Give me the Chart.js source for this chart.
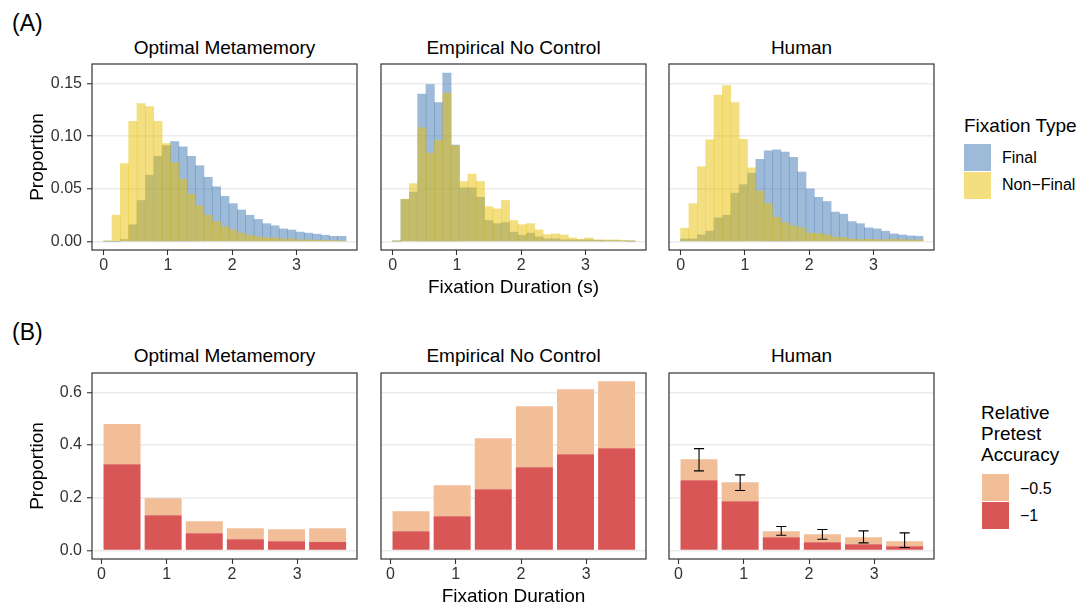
<!DOCTYPE html>
<html>
<head>
<meta charset="utf-8">
<script src="https://cdn.jsdelivr.net/npm/chart.js@4.4.1/dist/chart.umd.min.js"></script>
<style>
  html, body { margin: 0; padding: 0; background: #fff; }
  body { width: 1082px; height: 607px; position: relative; overflow: hidden;
         font-family: "Liberation Sans", Arial, Helvetica, sans-serif; color: #000; }
  .t { position: absolute; white-space: nowrap; line-height: 1; }
  canvas { position: absolute; }
  .sw { position: absolute; }
</style>
</head>
<body>
<script>
// ---------- axis ticks ----------
const xTickVals = [0, 1, 2, 3];
const xTickLabels = ['0', '1', '2', '3'];
const histYTickVals = [0, 0.05, 0.10, 0.15];
const histYTickLabels = ['0.00', '0.05', '0.10', '0.15'];
const barYTickVals = [0, 0.2, 0.4, 0.6];
const barYTickLabels = ['0.0', '0.2', '0.4', '0.6'];

const panelTitles = ['Optimal Metamemory', 'Empirical No Control', 'Human'];

// ---------- (A) fixation duration histograms ----------
const histBinCenters = [0.065, 0.195, 0.325, 0.455, 0.585, 0.715, 0.845, 0.975, 1.105, 1.235,
  1.365, 1.495, 1.625, 1.755, 1.885, 2.015, 2.145, 2.275, 2.405, 2.535,
  2.665, 2.795, 2.925, 3.055, 3.185, 3.315, 3.445, 3.575, 3.705];

const optimalFinal = [0, 0, 0.002, 0.016, 0.039, 0.063, 0.081, 0.091, 0.095, 0.090,
  0.081, 0.072, 0.061, 0.052, 0.043, 0.036, 0.030, 0.025, 0.021, 0.017,
  0.015, 0.012, 0.011, 0.009, 0.008, 0.007, 0.006, 0.005, 0.005];
const optimalNonFinal = [0.001, 0.025, 0.074, 0.114, 0.131, 0.128, 0.114, 0.093, 0.075, 0.059,
  0.045, 0.034, 0.025, 0.019, 0.014, 0.011, 0.008, 0.006, 0.0044, 0.0035,
  0.0035, 0.0025, 0.0025, 0.0016, 0.0016, 0.0013, 0.0013, 0.001, 0.0006];

const empiricalFinal = [0.0003, 0.040, 0.047, 0.140, 0.149, 0.132, 0.160, 0.0915, 0.051, 0.051,
  0.042, 0.020, 0.017, 0.018, 0.009, 0.006, 0.008, 0.0044, 0.0025, 0.0025,
  0.0016, 0.0016, 0.0016, 0.0016, 0.0013, 0.001, 0.001, 0.0006, 0.0003];
const empiricalNonFinal = [0.0003, 0.0402, 0.055, 0.108, 0.084, 0.096, 0.141, 0.091, 0.057, 0.064,
  0.057, 0.033, 0.031, 0.039, 0.020, 0.016, 0.017, 0.011, 0.0066, 0.0073,
  0.0063, 0.0035, 0.0022, 0.0035, 0.0016, 0.0016, 0.0016, 0.0013, 0.0003];

const humanFinal = [0.0025, 0.0025, 0.0063, 0.010, 0.0225, 0.025, 0.046, 0.054, 0.065, 0.078,
  0.086, 0.087, 0.085, 0.080, 0.066, 0.050, 0.042, 0.038, 0.028, 0.026,
  0.019, 0.017, 0.013, 0.012, 0.0098, 0.0073, 0.0063, 0.0054, 0.0051];
const humanNonFinal = [0.0127, 0.036, 0.071, 0.0965, 0.139, 0.148, 0.132, 0.097, 0.070, 0.048,
  0.036, 0.023, 0.018, 0.015, 0.013, 0.008, 0.0076, 0.0063, 0.0044, 0.0038,
  0.0025, 0.0019, 0.0022, 0.0019, 0.0019, 0.0022, 0.0019, 0.0016, 0.0016];

// ---------- (B) proportion by relative pretest accuracy ----------
const durationBinCenters = [0.315, 0.945, 1.575, 2.205, 2.835, 3.465];

const optimalAccMinus1 = [0.327, 0.134, 0.066, 0.043, 0.035, 0.032];
const optimalAccMinusHalf = [0.153, 0.064, 0.045, 0.042, 0.046, 0.053];

const empiricalAccMinus1 = [0.073, 0.130, 0.232, 0.316, 0.365, 0.388];
const empiricalAccMinusHalf = [0.076, 0.118, 0.194, 0.231, 0.246, 0.254];

const humanAccMinus1 = [0.2665, 0.187, 0.0505, 0.0316, 0.024, 0.0164];
const humanAccMinusHalf = [0.0795, 0.072, 0.0228, 0.0303, 0.0265, 0.019];
const humanErrLow = [0.302, 0.2274, 0.058, 0.043, 0.029, 0.0114];
const humanErrHigh = [0.3865, 0.2867, 0.091, 0.0796, 0.0745, 0.067];

// ---------- styling ----------
const FONT = '"Liberation Sans", Arial, Helvetica, sans-serif';
const COL_FINAL = 'rgba(59,117,177,0.5)';
const COL_NONFINAL = 'rgba(233,191,1,0.5)';
const COL_HALF = 'rgb(241,190,152)';
const COL_ONE = 'rgb(216,87,86)';
const INK = '#333';

// frame drawn around every panel
const panelFrame = {
  id: 'panelFrame',
  afterDraw(chart) {
    const { ctx, chartArea: a } = chart;
    ctx.save();
    ctx.strokeStyle = INK;
    ctx.lineWidth = 1.2;
    ctx.strokeRect(a.left, a.top, a.right - a.left, a.bottom - a.top);
    ctx.restore();
  }
};

// vertical error bars with caps
const errorBars = {
  id: 'errorBars',
  afterDatasetsDraw(chart, args, opts) {
    if (!opts || !opts.low) return;
    const { ctx, scales: { x, y } } = chart;
    ctx.save();
    ctx.strokeStyle = '#000';
    ctx.lineWidth = 1.1;
    opts.centers.forEach((c, i) => {
      const px = x.getPixelForValue(c);
      const half = x.getPixelForValue(c + opts.capWidth / 2) - px;
      const lo = y.getPixelForValue(opts.low[i]);
      const hi = y.getPixelForValue(opts.high[i]);
      ctx.beginPath();
      ctx.moveTo(px, lo); ctx.lineTo(px, hi);
      ctx.moveTo(px - half, lo); ctx.lineTo(px + half, lo);
      ctx.moveTo(px - half, hi); ctx.lineTo(px + half, hi);
      ctx.stroke();
    });
    ctx.restore();
  }
};

const PAD = 4, Y_AXIS_W = 56, X_AXIS_H = 30;

function noOverflow(s) {
  s.paddingTop = 0; s.paddingBottom = 0; s.paddingLeft = 0; s.paddingRight = 0;
}

function makePanel(p) {
  const yW = p.showY ? Y_AXIS_W : 0;
  const w = PAD + yW + p.pw + PAD;
  const h = PAD + p.ph + X_AXIS_H;
  const canvas = document.createElement('canvas');
  canvas.width = w; canvas.height = h;
  canvas.style.width = w + 'px'; canvas.style.height = h + 'px';
  canvas.style.left = (p.px - PAD - yW) + 'px';
  canvas.style.top = (p.py - PAD) + 'px';
  document.body.appendChild(canvas);

  new Chart(canvas, {
    type: 'bar',
    data: { datasets: p.datasets },
    plugins: [panelFrame, errorBars],
    options: {
      responsive: false,
      animation: false,
      devicePixelRatio: 1,
      layout: { padding: { left: PAD, top: PAD, right: PAD, bottom: 0 } },
      plugins: {
        legend: { display: false },
        tooltip: { enabled: false },
        errorBars: p.errorBars || {}
      },
      scales: {
        x: {
          type: 'linear', min: p.xMin, max: p.xMax, offset: false, stacked: p.stacked,
          afterBuildTicks: s => { s.ticks = xTickVals.map(v => ({ value: v })); },
          afterFit: s => { s.height = X_AXIS_H; noOverflow(s); },
          grid: { offset: false, drawOnChartArea: false, drawTicks: true, tickLength: 5,
                  tickColor: INK, tickWidth: 1.1 },
          border: { display: false },
          ticks: { callback: (v, i) => xTickLabels[i], font: { family: FONT, size: 16 },
                   color: INK, padding: 1, maxRotation: 0, autoSkip: false }
        },
        y: {
          type: 'linear', min: p.yMin, max: p.yMax, stacked: p.stacked,
          afterBuildTicks: s => { s.ticks = p.yTicks.map(v => ({ value: v })); },
          afterFit: s => { s.width = yW; noOverflow(s); },
          grid: { color: '#ebebeb', lineWidth: 1.5, drawTicks: p.showY, tickLength: 5,
                  tickColor: INK, tickWidth: 1.1 },
          border: { display: false },
          ticks: { display: p.showY, callback: (v, i) => p.yLabels[i],
                   font: { family: FONT, size: 16 }, color: INK, padding: 5 }
        }
      }
    }
  });
}

function histDatasets(finalVals, nonFinalVals) {
  return [
    { label: 'Final', order: 2, data: histBinCenters.map((x, i) => ({ x, y: finalVals[i] })),
      backgroundColor: COL_FINAL, borderWidth: 0, grouped: false,
      barPercentage: 1, categoryPercentage: 1 },
    { label: 'Non-Final', order: 1, data: histBinCenters.map((x, i) => ({ x, y: nonFinalVals[i] })),
      backgroundColor: COL_NONFINAL, borderWidth: 0, grouped: false,
      barPercentage: 1, categoryPercentage: 1 }
  ];
}

function accDatasets(minus1, minusHalf) {
  return [
    { label: '-1', data: durationBinCenters.map((x, i) => ({ x, y: minus1[i] })),
      backgroundColor: COL_ONE, borderWidth: 0, barPercentage: 0.9, categoryPercentage: 1 },
    { label: '-0.5', data: durationBinCenters.map((x, i) => ({ x, y: minusHalf[i] })),
      backgroundColor: COL_HALF, borderWidth: 0, barPercentage: 0.9, categoryPercentage: 1 }
  ];
}

const colX = [92, 381, 669];
const PW = 265, PH = 186;
const ROW_A = 64, ROW_B = 373;

const histSets = [
  histDatasets(optimalFinal, optimalNonFinal),
  histDatasets(empiricalFinal, empiricalNonFinal),
  histDatasets(humanFinal, humanNonFinal)
];
const accSets = [
  accDatasets(optimalAccMinus1, optimalAccMinusHalf),
  accDatasets(empiricalAccMinus1, empiricalAccMinusHalf),
  accDatasets(humanAccMinus1, humanAccMinusHalf)
];

for (let c = 0; c < 3; c++) {
  makePanel({
    px: colX[c], py: ROW_A, pw: PW, ph: PH, showY: c === 0, stacked: false,
    xMin: -0.18, xMax: 3.94, yMin: -0.008, yMax: 0.1685,
    yTicks: histYTickVals, yLabels: histYTickLabels,
    datasets: histSets[c]
  });
  makePanel({
    px: colX[c], py: ROW_B, pw: PW, ph: PH, showY: c === 0, stacked: true,
    xMin: -0.145, xMax: 3.915, yMin: -0.032, yMax: 0.673,
    yTicks: barYTickVals, yLabels: barYTickLabels,
    datasets: accSets[c],
    errorBars: c === 2 ? { centers: durationBinCenters, low: humanErrLow, high: humanErrHigh,
                           capWidth: 0.155 } : undefined
  });
}

// ---------- text ----------
function addText(str, x, baseline, size, align) {
  const d = document.createElement('div');
  d.className = 't';
  d.textContent = str;
  d.style.fontSize = size + 'px';
  d.style.left = x + 'px';
  d.style.top = (baseline - 0.8464 * size) + 'px';
  if (align === 'center') d.style.transform = 'translateX(-50%)';
  document.body.appendChild(d);
  return d;
}
function addVText(str, cx, cy, size) {
  const d = document.createElement('div');
  d.className = 't';
  d.textContent = str;
  d.style.fontSize = size + 'px';
  d.style.left = cx + 'px';
  d.style.top = cy + 'px';
  d.style.transform = 'translate(-50%, -50%) rotate(-90deg)';
  document.body.appendChild(d);
}
function addSwatch(x, y, w, h, color) {
  const d = document.createElement('div');
  d.className = 'sw';
  Object.assign(d.style, { left: x + 'px', top: y + 'px', width: w + 'px', height: h + 'px', background: color });
  document.body.appendChild(d);
}

addText('(A)', 12, 31, 23);
addText('(B)', 12, 340, 23);
for (let c = 0; c < 3; c++) {
  addText(panelTitles[c], colX[c] + PW / 2, 54, 19, 'center');
  addText(panelTitles[c], colX[c] + PW / 2, 362, 19, 'center');
}
addVText('Proportion', 35.5, ROW_A + PH / 2, 19);
addVText('Proportion', 35.5, ROW_B + PH / 2, 19);
addText('Fixation Duration (s)', colX[1] + PW / 2, 292.7, 19, 'center');
addText('Fixation Duration', colX[1] + PW / 2, 602, 19, 'center');

// legend: fixation type
addText('Fixation Type', 964, 132, 19);
addSwatch(964, 144, 27, 27, COL_FINAL);
addSwatch(964, 172, 27, 27, COL_NONFINAL);
addText('Final', 1002, 163.3, 16);
addText('Non\u2212Final', 1002, 190.7, 16);

// legend: relative pretest accuracy
addText('Relative', 981, 419.3, 19);
addText('Pretest', 981, 440, 19);
addText('Accuracy', 981, 460.7, 19);
addSwatch(982, 474, 27, 27, COL_HALF);
addSwatch(982, 502, 27, 27, COL_ONE);
addText('\u22120.5', 1020, 494.4, 16);
addText('\u22121', 1020, 521.7, 16);
</script>
</body>
</html>
